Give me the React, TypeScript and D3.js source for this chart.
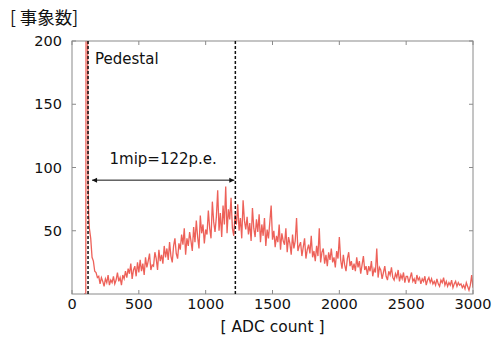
import React, { useEffect, useRef } from 'react';
import * as d3 from 'd3';

const width = 492;
const height = 340;
const plot = { left: 72, right: 473, top: 41, bottom: 294 };

// pedestal spike (ADC count, events)
const pedestalAdc = [90, 103, 106, 113, 120, 125];
const pedestalCounts = [0, 0, 320, 320, 90, 62];

// main spectrum, bins of 10 ADC counts starting at 130
const binStart = 130;
const binWidth = 10;
const counts = [
  52, 44, 29, 26, 18, 17, 13, 14,
  8, 13, 10, 6, 12, 9, 15, 7, 11, 9,
  14, 8, 11, 17, 10, 13, 7, 15, 12, 18,
  13, 20, 16, 24, 12, 19, 22, 14, 25, 17,
  27, 18, 24, 15, 29, 21, 26, 32, 19, 23,
  22, 33, 28, 19, 35, 26, 31, 24, 38, 29,
  36, 27, 41, 30, 25, 38, 44, 32, 28, 40,
  35, 47, 39, 52, 31, 44, 38, 49, 42, 34,
  53, 41, 58, 45, 36, 62, 48, 55, 40, 51,
  47, 66, 52, 44, 73, 57, 49, 61, 82, 50,
  64, 45, 70, 55, 85, 48, 67, 59, 76, 52,
  46, 63, 55, 71, 50, 60, 44, 74, 58, 51,
  61, 47, 56, 42, 68, 52, 45, 59, 49, 63,
  41, 55, 46, 60, 38, 51, 44, 57, 70, 43,
  50, 37, 46, 41, 55, 35, 48, 42, 39, 52,
  33, 45, 40, 31, 47, 36, 42, 60, 34, 38,
  41, 30, 37, 44, 28, 35, 39, 32, 46, 29,
  34, 26, 38, 30, 52, 25, 33, 36, 24, 31,
  22, 33, 27, 36, 25, 29, 21, 34, 28, 45,
  27, 20, 31, 23, 18, 28, 33, 22, 26, 19,
  24, 18, 29, 21, 26, 16, 23, 30, 19, 22,
  15, 22, 18, 26, 14, 20, 17, 36, 13, 21,
  19, 12, 17, 22, 14, 11, 18, 15, 21, 13,
  11, 16, 13, 19, 10, 15, 12, 17, 9, 14,
  14, 9, 13, 17, 10, 12, 8, 15, 11, 13,
  8, 12, 10, 14, 7, 11, 13, 9, 12, 8,
  10, 7, 12, 8, 6, 11, 9, 13, 7, 10,
  6, 9, 7, 11, 5, 8, 10, 6, 9, 7,
  8, 5, 7, 4, 9, 6, 3, 7, 15, 5,
];

const xTicks = [0, 500, 1000, 1500, 2000, 2500, 3000];
const yTicks = [50, 100, 150, 200];
const pedestalCut = 120;
const mipPeak = 1222;
const arrowFrom = 150;
const arrowLevel = 90;
const mipLabel = '1mip=122p.e.';

const font = "'DejaVu Sans', sans-serif";

const App = () => {
  const svgRef = useRef<SVGSVGElement>(null);

  useEffect(() => {
    const svg = d3.select(svgRef.current);
    svg.selectAll('*').remove();

    const x = d3.scaleLinear().domain([0, 3000]).range([plot.left, plot.right]);
    const y = d3.scaleLinear().domain([0, 200]).range([plot.bottom, plot.top]);

    const points: [number, number][] = pedestalAdc.map((a, i) => [a, pedestalCounts[i]]);
    counts.forEach((c, i) => points.push([binStart + i * binWidth, c]));

    svg.append('defs').append('clipPath').attr('id', 'plotclip')
      .append('rect')
      .attr('x', plot.left).attr('y', plot.top)
      .attr('width', plot.right - plot.left).attr('height', plot.bottom - plot.top);

    svg.append('path')
      .datum(points)
      .attr('clip-path', 'url(#plotclip)')
      .attr('fill', 'none')
      .attr('stroke', '#e8392f')
      .attr('stroke-opacity', 0.8)
      .attr('stroke-width', 1.3)
      .attr('d', d3.line<[number, number]>().x(d => x(d[0])).y(d => y(d[1])));

    // frame
    svg.append('rect')
      .attr('x', plot.left).attr('y', plot.top)
      .attr('width', plot.right - plot.left).attr('height', plot.bottom - plot.top)
      .attr('fill', 'none').attr('stroke', '#8a8a8a').attr('stroke-width', 1);

    // inner ticks
    const tickG = svg.append('g').attr('stroke', '#8a8a8a').attr('stroke-width', 1);
    xTicks.forEach(t => {
      tickG.append('line').attr('x1', x(t)).attr('x2', x(t)).attr('y1', plot.bottom).attr('y2', plot.bottom - 4);
      tickG.append('line').attr('x1', x(t)).attr('x2', x(t)).attr('y1', plot.top).attr('y2', plot.top + 4);
    });
    yTicks.forEach(t => {
      tickG.append('line').attr('x1', plot.left).attr('x2', plot.left + 4).attr('y1', y(t)).attr('y2', y(t));
      tickG.append('line').attr('x1', plot.right).attr('x2', plot.right - 4).attr('y1', y(t)).attr('y2', y(t));
    });

    svg.append('g').selectAll('text').data(xTicks).enter().append('text')
      .attr('x', d => x(d)).attr('y', plot.bottom + 15)
      .attr('text-anchor', 'middle')
      .attr('font-family', font).attr('font-size', 14.5).attr('fill', '#111')
      .text(d => d);

    svg.append('g').selectAll('text').data(yTicks).enter().append('text')
      .attr('x', plot.left - 10).attr('y', d => y(d) + 5)
      .attr('text-anchor', 'end')
      .attr('font-family', font).attr('font-size', 14.5).attr('fill', '#111')
      .text(d => d);

    // dashed markers
    [pedestalCut, mipPeak].forEach(v => {
      svg.append('line')
        .attr('x1', x(v)).attr('x2', x(v)).attr('y1', plot.top).attr('y2', plot.bottom)
        .attr('stroke', '#111').attr('stroke-width', 1.5).attr('stroke-dasharray', '3,2');
    });

    // double arrow
    const ay = y(arrowLevel);
    const ax1 = x(arrowFrom);
    const ax2 = x(mipPeak) - 1;
    svg.append('line').attr('x1', ax1).attr('x2', ax2).attr('y1', ay).attr('y2', ay)
      .attr('stroke', '#111').attr('stroke-width', 1);
    svg.append('path').attr('d', `M${ax1},${ay}l5,-2.5v5z`).attr('fill', '#111');
    svg.append('path').attr('d', `M${ax2},${ay}l-5,-2.5v5z`).attr('fill', '#111');

    svg.append('text')
      .attr('x', (ax1 + ax2) / 2).attr('y', ay - 16)
      .attr('text-anchor', 'middle')
      .attr('font-family', font).attr('font-size', 15).attr('fill', '#111')
      .text(mipLabel);

    svg.append('text')
      .attr('x', x(pedestalCut) + 7).attr('y', plot.top + 23)
      .attr('font-family', font).attr('font-size', 15).attr('fill', '#111')
      .text('Pedestal');

    svg.append('text')
      .attr('x', (plot.left + plot.right) / 2).attr('y', 332)
      .attr('text-anchor', 'middle')
      .attr('font-family', font).attr('font-size', 15.5).attr('fill', '#111')
      .text('[ ADC count ]');

    svg.append('text')
      .attr('x', 10).attr('y', 24)
      .attr('font-family', "'Noto Sans CJK JP', " + font).attr('font-size', 17.5).attr('fill', '#111')
      .text('[ 事象数]');
  }, []);

  return (
    <svg ref={svgRef} width={width} height={height}
      style={{ position: 'absolute', left: 0, top: 0, background: '#fff' }} />
  );
};

export default App;
